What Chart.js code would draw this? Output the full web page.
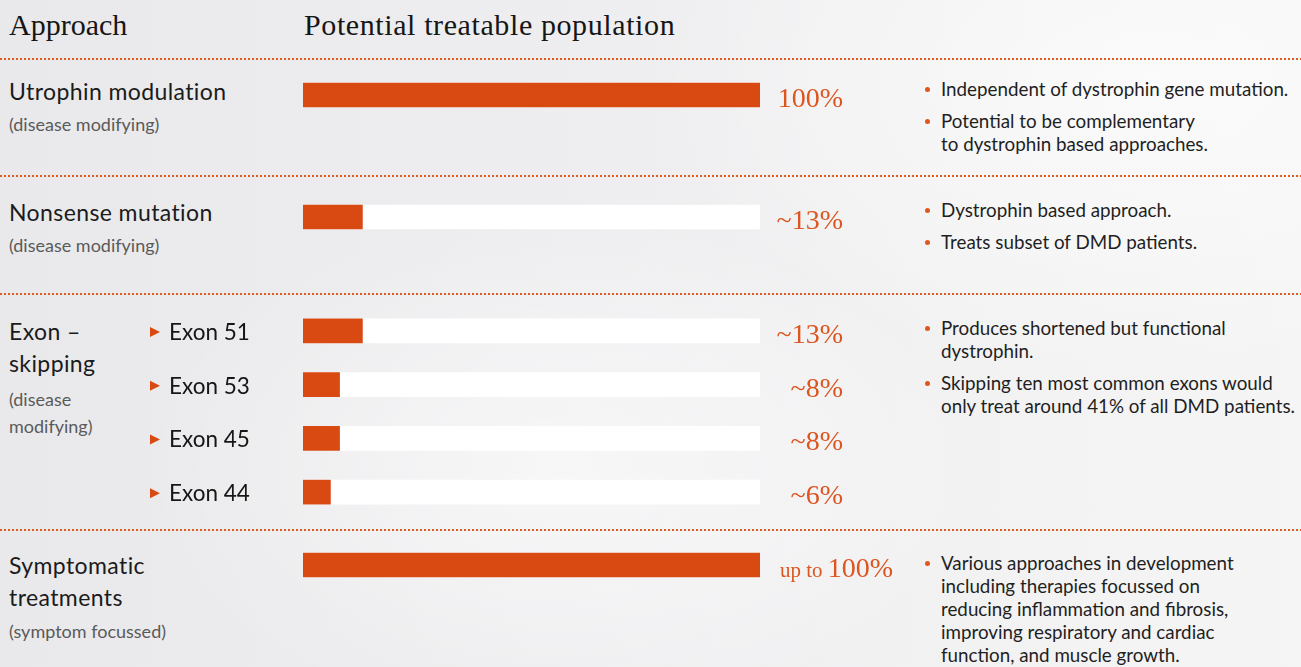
<!DOCTYPE html>
<html>
<head>
<meta charset="utf-8">
<script src="https://cdn.jsdelivr.net/npm/chart.js@4.4.1/dist/chart.umd.min.js"></script>
<style>
  body {
    margin: 0;
    width: 1301px;
    height: 667px;
    overflow: hidden;
    position: relative;
    font-family: Lato, sans-serif;
    color: #1b1b1b;
    background:
      radial-gradient(ellipse 420px 260px at 560px 470px, rgba(255,255,255,0.55), rgba(255,255,255,0)),
      radial-gradient(ellipse 500px 300px at 1150px 80px, rgba(255,255,255,0.6), rgba(255,255,255,0)),
      linear-gradient(90deg, #e9e9eb 0%, #eeeef0 45%, #f2f2f3 75%, #f5f5f5 100%);
  }
  .abs { position: absolute; white-space: nowrap; }
  .head { font-family: "Liberation Serif", serif; font-size: 30px; line-height: 36px; top: 7px; color: #161616; }
  .main { font-size: 23px; line-height: 32px; letter-spacing: 0.4px; }
  .sub { font-size: 18px; line-height: 27px; color: #5a5a5a; }
  .dots {
    position: absolute; left: 0; width: 1301px; height: 2px;
    background: repeating-linear-gradient(90deg, #e15a1f 0 2px, transparent 2px 4px);
  }
  .notes { position: absolute; left: 941px; font-size: 18.8px; line-height: 23px; color: #1f1f1f; }
  .notes p { margin: 0 0 9px 0; position: relative; white-space: nowrap; }
  .notes p::before {
    content: ""; position: absolute; left: -16px; top: 10px;
    width: 5px; height: 5px; border-radius: 50%; background: #e0561c;
  }
  canvas { position: absolute; left: 0; }
</style>
</head>
<body>

<div class="abs head" style="left:9px">Approach</div>
<div class="abs head" style="left:304px;letter-spacing:0.6px">Potential treatable population</div>

<div class="dots" style="top:58px"></div>
<div class="dots" style="top:175px"></div>
<div class="dots" style="top:293px"></div>
<div class="dots" style="top:529px"></div>

<div class="abs main" style="left:9px;top:75px">Utrophin modulation</div>
<div class="abs sub" style="left:9px;top:111px">(disease modifying)</div>

<div class="abs main" style="left:9px;top:196px">Nonsense mutation</div>
<div class="abs sub" style="left:9px;top:232px">(disease modifying)</div>

<div class="abs main" style="left:9px;top:315px">Exon –<br>skipping</div>
<div class="abs sub" style="left:9px;top:386px">(disease<br>modifying)</div>

<div class="abs main" style="left:9px;top:549px">Symptomatic<br>treatments</div>
<div class="abs sub" style="left:9px;top:618px">(symptom focussed)</div>

<div class="notes" style="top:77px">
  <p>Independent of dystrophin gene mutation.</p>
  <p>Potential to be complementary<br>to dystrophin based approaches.</p>
</div>
<div class="notes" style="top:198px">
  <p>Dystrophin based approach.</p>
  <p>Treats subset of DMD patients.</p>
</div>
<div class="notes" style="top:316px">
  <p>Produces shortened but functional<br>dystrophin.</p>
  <p>Skipping ten most common exons would<br>only treat around 41% of all DMD patients.</p>
</div>
<div class="notes" style="top:551px">
  <p>Various approaches in development<br>including therapies focussed on<br>reducing inflammation and fibrosis,<br>improving respiratory and cardiac<br>function, and muscle growth.</p>
</div>

<canvas id="utrophin" width="1301" height="40" style="top:75px"></canvas>
<canvas id="nonsense" width="1301" height="40" style="top:197px"></canvas>
<canvas id="exon" width="1301" height="215" style="top:304px"></canvas>
<canvas id="symptomatic" width="1301" height="40" style="top:545px"></canvas>

<script>
// share of DMD patients each approach could treat
const categories = ['Utrophin modulation', 'Nonsense mutation', 'Exon 51', 'Exon 53', 'Exon 45', 'Exon 44', 'Symptomatic treatments'];
const population = [100, 13, 13, 8, 8, 6, 100];
const valueLabels = ['100%', '~13%', '~13%', '~8%', '~8%', '~6%', 'up to 100%'];
const axisRange = [0, 100];

const ORANGE = '#d94a12';
const TEXT_ORANGE = '#dc5620';

// value text to the right of the bars, and the little arrow labels for the exon rows
const barText = {
  id: 'barText',
  afterDatasetsDraw(chart, args, opts) {
    const ctx = chart.ctx;
    const area = chart.chartArea;
    const meta = chart.getDatasetMeta(1);
    ctx.save();
    ctx.textBaseline = 'alphabetic';
    meta.data.forEach(function(bar, i) {
      const label = opts.values[i];
      ctx.fillStyle = TEXT_ORANGE;
      if (label.indexOf('up to ') == 0) {
        ctx.textAlign = 'left';
        const x0 = area.right + 20;
        ctx.font = '21px "Liberation Serif"';
        ctx.fillText('up to ', x0, bar.y + 12);
        const w = ctx.measureText('up to ').width;
        ctx.font = '28px "Liberation Serif"';
        ctx.fillText(label.slice(6), x0 + w, bar.y + 12);
      } else {
        ctx.textAlign = 'right';
        ctx.font = '28px "Liberation Serif"';
        ctx.fillText(label, area.right + 83, bar.y + 12);
      }
      if (opts.rowLabels) {
        const x = area.left - 153;
        ctx.fillStyle = ORANGE;
        ctx.beginPath();
        ctx.moveTo(x, bar.y - 4);
        ctx.lineTo(x + 10, bar.y + 1);
        ctx.lineTo(x, bar.y + 6);
        ctx.closePath();
        ctx.fill();
        ctx.fillStyle = '#161616';
        ctx.textAlign = 'left';
        ctx.font = '22.5px Lato';
        ctx.fillText(chart.data.labels[i], x + 19, bar.y + 9);
      }
    });
    ctx.restore();
  }
};

function drawSection(id, from, to, rowLabels) {
  const values = population.slice(from, to);
  new Chart(document.getElementById(id), {
    type: 'bar',
    data: {
      labels: categories.slice(from, to),
      datasets: [{
        // white track behind each bar
        data: values.map(function() { return axisRange[1]; }),
        backgroundColor: '#ffffff',
        order: 1
      }, {
        data: values,
        backgroundColor: ORANGE,
        order: 0
      }]
    },
    options: {
      responsive: false,
      animation: false,
      indexAxis: 'y',
      layout: {padding: {left: 303, right: 541, top: 0, bottom: 0}},
      datasets: {bar: {grouped: false, barThickness: 24, borderWidth: 0}},
      scales: {
        x: {display: false, min: axisRange[0], max: axisRange[1]},
        y: {display: false}
      },
      plugins: {
        legend: {display: false},
        tooltip: {enabled: false},
        barText: {values: valueLabels.slice(from, to), rowLabels: rowLabels}
      }
    },
    plugins: [barText]
  });
}

drawSection('utrophin', 0, 1, false);
drawSection('nonsense', 1, 2, false);
drawSection('exon', 2, 6, true);
drawSection('symptomatic', 6, 7, false);
</script>
</body>
</html>
